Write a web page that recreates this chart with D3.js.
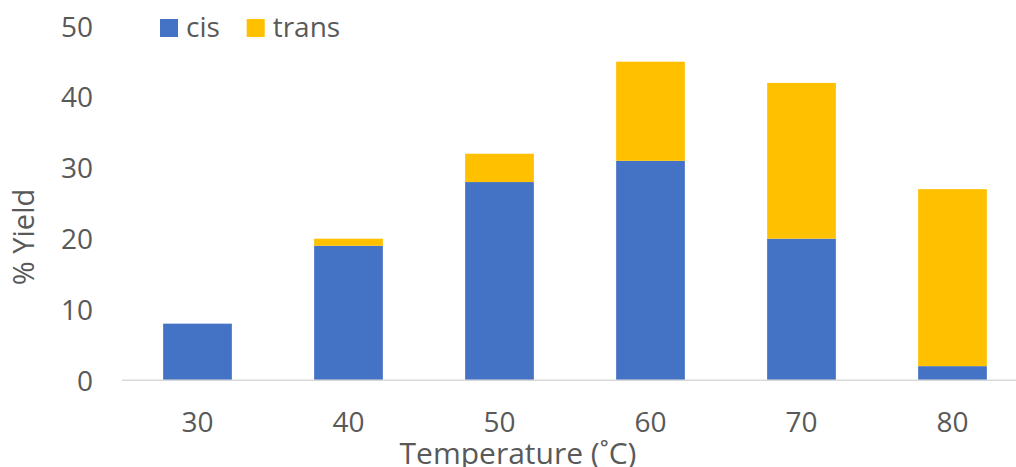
<!DOCTYPE html>
<html><head><meta charset="utf-8">
<script src="https://cdn.jsdelivr.net/npm/d3@7"></script>
<style>html,body{margin:0;padding:0;background:#fff;overflow:hidden}</style>
</head><body>
<svg id="c" width="1016" height="467"></svg>
<script>
const categories = ["30","40","50","60","70","80"];
const cis = [8, 19, 28, 31, 20, 2];
const trans = [0, 1, 4, 14, 22, 25];
const seriesNames = ["cis","trans"];
const colors = ["#4472C4","#FFC000"];
const yTicks = [0,10,20,30,40,50];

const svg = d3.select("#c");
const font = "'Open Sans', sans-serif";
const textColor = "#595959";
const fs = 28;

const x = d3.scaleBand().domain(categories).range([122, 1028]).paddingInner(0.545).paddingOuter(0.2725);
const y = d3.scaleLinear().domain([0, 50]).range([380.3, 26.3]);

const data = categories.map((c,i)=>({cat:c, cis:cis[i], trans:trans[i]}));
const stacked = d3.stack().keys(seriesNames)(data);

svg.append("g").selectAll("g").data(stacked).join("g")
  .attr("fill",(d,i)=>colors[i])
  .selectAll("rect").data(d=>d).join("rect")
  .attr("x", d=>x(d.data.cat))
  .attr("width", x.bandwidth())
  .attr("y", d=>y(d[1]))
  .attr("height", d=>y(d[0])-y(d[1]));

// baseline axis
const xAxis = svg.append("g").attr("transform",`translate(0,${y(0)})`)
  .call(d3.axisBottom(x).tickSize(0).tickPadding(0));
xAxis.select(".domain").attr("d","M122,0H1028").attr("stroke","#d9d9d9").attr("stroke-width",1.5);
xAxis.selectAll("text").attr("font-family",font).attr("font-size",fs).attr("fill",textColor)
  .attr("dy",null).attr("y",52);

const yAxis = svg.append("g").attr("transform","translate(93,0)")
  .call(d3.axisLeft(y).tickValues(yTicks).tickSize(0).tickPadding(0));
yAxis.select(".domain").remove();
yAxis.selectAll("text").attr("font-family",font).attr("font-size",fs).attr("fill",textColor)
  .attr("dy","0.35em");

// axis titles
svg.append("text").attr("x",518).attr("y",464).attr("text-anchor","middle")
  .attr("font-family",font).attr("font-size",30).attr("fill",textColor).text("Temperature (˚C)");
svg.append("text").attr("transform","translate(34,237) rotate(-90)").attr("text-anchor","middle")
  .attr("font-family",font).attr("font-size",29).attr("fill",textColor).text("% Yield");

// legend
const lg = svg.append("g");
const legX = [160, 246.7];
seriesNames.forEach((n,i)=>{
  lg.append("rect").attr("x",legX[i]).attr("y",19).attr("width",18).attr("height",18).attr("fill",colors[i]);
  lg.append("text").attr("x",legX[i]+26).attr("y",37).attr("font-family",font).attr("font-size",fs)
    .attr("fill",textColor).text(n);
});
</script>
</body></html>
